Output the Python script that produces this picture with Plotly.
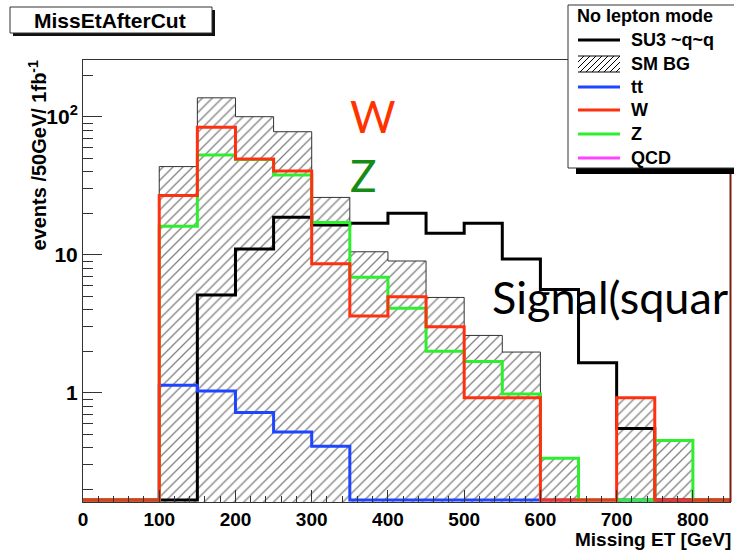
import plotly.graph_objects as go

# ---------------- data ----------------
bin_edges = list(range(0, 851, 50))            # 17 bins of 50 GeV, 0..850
signal_su3 = [0, 0, 0, 5.1, 11.0, 18.7, 16.4, 16.9, 20.0, 14.3, 16.9, 9.3, 5.6, 1.65, 0.55, 0, 0]
sm_bg      = [0, 0, 43.5, 137, 100, 77.8, 26.0, 10.5, 9.0, 4.9, 2.6, 1.97, 0.335, 0, 0.92, 0.45, 0]
ttbar      = [0, 0, 1.13, 1.03, 0.72, 0.52, 0.41, 0, 0, 0, 0, 0, 0, 0, 0, 0, 0]
w_jets     = [0, 0, 26.8, 83.8, 49.3, 40.4, 8.6, 3.6, 4.96, 3.0, 0.92, 0.92, 0, 0, 0.92, 0, 0]
z_jets     = [0, 0, 16.1, 52.8, 49.0, 37.8, 17.1, 6.85, 4.1, 2.0, 1.68, 0.98, 0.335, 0, 0, 0.45, 0]
qcd        = [0] * 17   # empty histogram: only appears in the legend

x_tick_vals = [0, 100, 200, 300, 400, 500, 600, 700, 800]
y_tick_vals = [1, 10, 100]
y_tick_text = ["1", "10", "10<sup>2</sup>"]
y_minor_vals = [0.2, 0.3, 0.4, 0.5, 0.6, 0.7, 0.8, 0.9,
                2, 3, 4, 5, 6, 7, 8, 9,
                20, 30, 40, 50, 60, 70, 80, 90, 200]

legend_header = "No lepton mode"
legend_labels = ["SU3 ~q~q", "SM BG", "tt", "W", "Z", "QCD"]

# ---------------- styling ----------------
W_PX, H_PX = 734, 550
ML, MR, MT, MB = 83, 3, 59, 48
PW, PH = W_PX - ML - MR, H_PX - MT - MB
FLOOR = 0.167        # ROOT draws empty bins at the pad minimum

RED = "#ff3010"
BLUE = "#1f45ff"
GREEN = "#2cf02c"
MAGENTA = "#ff44ff"
BLACK = "#000000"
FONT = "Liberation Sans"


def px(x):
    return (x - ML) / PW


def py(y):
    return (H_PX - MB - y) / PH


def step(vals):
    ys = [v if v > 0 else FLOOR for v in vals]
    return bin_edges, ys + [ys[-1]]


fig = go.Figure()

centers = [(bin_edges[i] + bin_edges[i + 1]) / 2 for i in range(len(sm_bg))]
fig.add_trace(go.Bar(
    x=centers, y=[v if v > 0 else None for v in sm_bg], width=50,
    marker=dict(color="white", line=dict(width=0),
                pattern=dict(shape="/", fgcolor="black", bgcolor="white", size=7, solidity=0.18)),
    showlegend=False, hoverinfo="skip"))

sx, sy = step(sm_bg)
fig.add_trace(go.Scatter(x=sx, y=sy, mode="lines", line=dict(shape="hv", color="#333333", width=1),
                         showlegend=False, hoverinfo="skip"))

for vals, col in [(signal_su3, BLACK), (ttbar, BLUE), (z_jets, GREEN), (w_jets, RED)]:
    sx, sy = step(vals)
    fig.add_trace(go.Scatter(x=sx, y=sy, mode="lines",
                             line=dict(shape="hv", color=col, width=3),
                             showlegend=False, hoverinfo="skip"))
if any(v > 0 for v in qcd):
    sx, sy = step(qcd)
    fig.add_trace(go.Scatter(x=sx, y=sy, mode="lines", line=dict(shape="hv", color=MAGENTA, width=3),
                             showlegend=False, hoverinfo="skip"))

shapes = []
annotations = []

# frame: top and right
shapes.append(dict(type="line", xref="paper", yref="paper", x0=0, x1=1, y0=py(59.5), y1=py(59.5),
                   line=dict(color="#333333", width=1)))
shapes.append(dict(type="line", xref="paper", yref="paper", x0=px(730.5), x1=px(730.5), y0=py(502), y1=py(60),
                   line=dict(color="#7a2010", width=2)))

# title box with shadow
shapes.append(dict(type="rect", xref="paper", yref="paper", x0=px(13), x1=px(215), y0=py(36), y1=py(10),
                   line=dict(width=0), fillcolor="#111111"))
shapes.append(dict(type="rect", xref="paper", yref="paper", x0=px(10), x1=px(212), y0=py(33), y1=py(7),
                   line=dict(color="#333333", width=1), fillcolor="white"))
annotations.append(dict(xref="paper", yref="paper", x=px(110), y=py(21), text="<b>MissEtAfterCut</b>",
                        showarrow=False, xanchor="center", yanchor="middle",
                        font=dict(family=FONT, size=21, color="black")))

# legend box with shadow
shapes.append(dict(type="rect", xref="paper", yref="paper", x0=px(576), x1=px(740), y0=py(174), y1=py(12),
                   line=dict(width=0), fillcolor="#000000"))
shapes.append(dict(type="rect", xref="paper", yref="paper", x0=px(568), x1=px(738), y0=py(168), y1=py(5),
                   line=dict(color="#333333", width=1), fillcolor="white"))
annotations.append(dict(xref="paper", yref="paper", x=px(575), y=py(16), text="<b>" + legend_header + "</b>",
                        showarrow=False, xanchor="left", yanchor="middle",
                        font=dict(family=FONT, size=18, color="black")))
row_y = [40, 64, 87, 110, 134, 158]
swatch_cols = [BLACK, None, BLUE, RED, GREEN, MAGENTA]
for lab, yy, col in zip(legend_labels, row_y, swatch_cols):
    annotations.append(dict(xref="paper", yref="paper", x=px(629), y=py(yy), text="<b>" + lab + "</b>",
                            showarrow=False, xanchor="left", yanchor="middle",
                            font=dict(family=FONT, size=18, color="black")))
    if col is not None:
        shapes.append(dict(type="line", xref="paper", yref="paper", x0=px(578), x1=px(620),
                           y0=py(yy), y1=py(yy), line=dict(color=col, width=3)))
    else:
        top, bot, xl, xr = yy - 8, yy + 8, 578, 620
        shapes.append(dict(type="line", xref="paper", yref="paper", x0=px(xl), x1=px(xr),
                           y0=py(top), y1=py(top), line=dict(color="black", width=1)))
        shapes.append(dict(type="line", xref="paper", yref="paper", x0=px(xl), x1=px(xr),
                           y0=py(bot), y1=py(bot), line=dict(color="black", width=1)))
        h = bot - top
        xb = xl - h
        while xb < xr:
            x0, y0, x1, y1 = xb, bot, xb + h, top
            if x0 < xl:
                y0 = bot - (xl - x0)
                x0 = xl
            if x1 > xr:
                y1 = top + (x1 - xr)
                x1 = xr
            if x1 > x0:
                shapes.append(dict(type="line", xref="paper", yref="paper", x0=px(x0), x1=px(x1),
                                   y0=py(y0), y1=py(y1), line=dict(color="black", width=1)))
            xb += 6

# free text on the plot
annotations.append(dict(xref="paper", yref="paper", x=px(373), y=py(116), text="W", showarrow=False,
                        xanchor="center", yanchor="middle", font=dict(family="Lato", size=44, color="#ff3300")))
annotations.append(dict(xref="paper", yref="paper", x=px(363), y=py(175), text="Z", showarrow=False,
                        xanchor="center", yanchor="middle", font=dict(family="Lato", size=44, color="#168c16")))
annotations.append(dict(xref="paper", yref="paper", x=px(490), y=py(297), text="Signal(squar", showarrow=False,
                        xanchor="left", yanchor="middle", font=dict(family="Lato", size=45, color="black")))

# axis titles
annotations.append(dict(xref="paper", yref="paper", x=px(37), y=py(58),
                        text="<b>events /50GeV/ 1fb<sup>-1</sup></b>", textangle=-90, showarrow=False,
                        xanchor="center", yanchor="top", font=dict(family=FONT, size=20, color="black")))
annotations.append(dict(xref="paper", yref="paper", x=px(733), y=py(539),
                        text="<b>Missing ET [GeV]</b>", showarrow=False,
                        xanchor="right", yanchor="middle", font=dict(family=FONT, size=19, color="black")))

fig.update_layout(
    width=W_PX, height=H_PX,
    margin=dict(l=ML, r=MR, t=MT, b=MB, pad=0),
    paper_bgcolor="white", plot_bgcolor="white",
    bargap=0, barmode="overlay", showlegend=False,
    shapes=shapes, annotations=annotations,
    xaxis=dict(range=[0, 850], tickvals=x_tick_vals, ticks="inside", ticklen=12, tickwidth=1,
               tickcolor="#333333", showline=True, linecolor="#333333", linewidth=1,
               showgrid=False, zeroline=False, ticklabelstandoff=0,
               tickfont=dict(family=FONT, size=19, color="black", weight="bold"),
               minor=dict(ticks="inside", ticklen=6, dtick=20, tick0=0, tickcolor="#333333", showgrid=False)),
    yaxis=dict(type="log", range=[-0.792, 2.418], tickvals=y_tick_vals, ticktext=y_tick_text,
               ticks="inside", ticklen=19, tickwidth=1, tickcolor="#333333",
               showline=True, linecolor="#333333", linewidth=1, showgrid=False, zeroline=False,
               tickfont=dict(family=FONT, size=21, color="black", weight="bold"),
               minor=dict(ticks="inside", ticklen=10, tickvals=y_minor_vals, tickcolor="#333333",
                          showgrid=False)),
)

fig.write_html("out.html")
